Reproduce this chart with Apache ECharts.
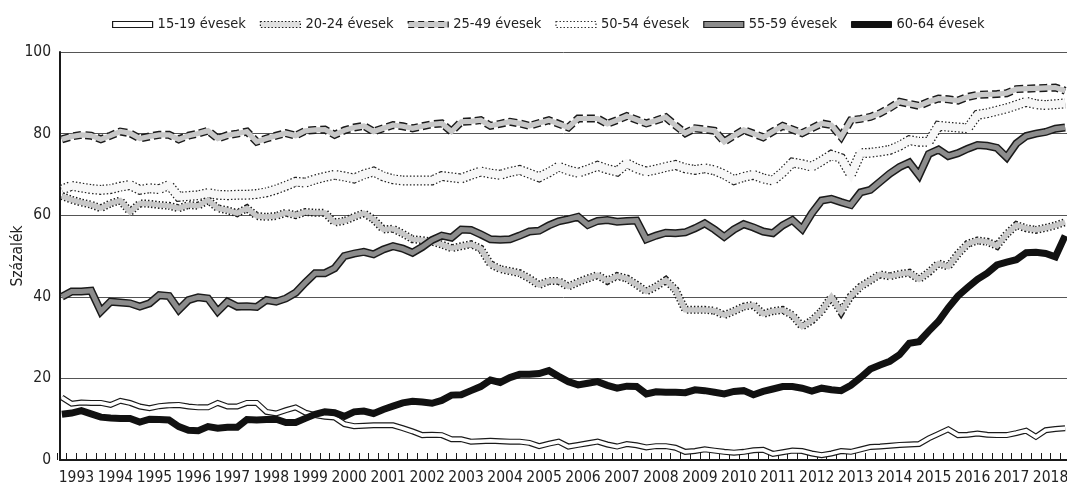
<!DOCTYPE html>
<html><head><meta charset="utf-8">
<script src="https://cdn.jsdelivr.net/npm/echarts@6/dist/echarts.min.js"></script>
<style>html,body{margin:0;padding:0;background:#fff}#c{width:1067px;height:487px}</style>
</head><body><div id="c"></div><script>
const years = [1993,1994,1995,1996,1997,1998,1999,2000,2001,2002,2003,2004,2005,2006,2007,2008,2009,2010,2011,2012,2013,2014,2015,2016,2017,2018];
const quarterNames = ['I','II','III','IV'];
const yTicks = [0,20,40,60,80,100];
const seriesNames = ['15-19 évesek','20-24 évesek','25-49 évesek','50-54 évesek','55-59 évesek','60-64 évesek'];

const s1519 = [15.3,13.8,14.1,14.0, 14.0,13.5,14.5,14.0, 13.1,12.7,13.2,13.4, 13.5,13.1,12.9,12.9, 14.0,13.1,13.1,14.0, 14.0,11.8,11.4,12.2,
  12.9,11.6,11.0,10.6, 10.4,8.8,8.3,8.4, 8.5,8.5,8.5,7.8, 7.0,6.1,6.2,6.1, 5.1,5.1,4.5,4.6, 4.7,4.6,4.5,4.5, 4.2,3.4,4.0,4.5,
  3.3,3.7,4.1,4.5, 3.8,3.3,3.9,3.6, 3.1,3.4,3.4,3.0, 2.0,2.2,2.6,2.3, 2.0,1.8,2.0,2.4, 2.5,1.5,1.9,2.3, 2.2,1.6,1.2,1.6,
  2.2,2.0,2.6,3.2, 3.3,3.5,3.7,3.8, 3.9,5.3,6.4,7.5, 6.1,6.2,6.5,6.2, 6.1,6.1,6.6,7.2, 5.7,7.3,7.6,7.8];
const s2024 = [64.7,63.8,63.1,62.6, 61.7,62.9,63.6,60.8, 62.9,62.8,62.5,62.3, 61.7,62.5,62.3,63.7, 61.7,61.2,60.5,61.7, 59.8,59.6,59.8,60.6,
  60.0,60.8,60.6,60.6, 58.2,58.6,59.6,60.5, 59.0,56.5,56.7,55.5, 54.1,53.9,53.5,52.8, 51.9,52.4,52.9,51.8, 48.0,46.8,46.3,45.8, 44.5,42.9,43.9,43.9,
  42.5,43.6,44.5,45.3, 43.9,45.1,44.5,43.0, 41.3,42.5,44.1,41.7, 36.8,36.8,36.8,36.6, 35.5,36.5,37.6,38.0, 35.8,36.5,36.8,35.5, 32.7,34.2,36.5,40.0,
  36.3,40.2,42.5,44.0, 45.5,45.0,45.6,45.9, 44.3,46.0,48.2,47.4, 50.5,53.0,53.8,53.5, 52.5,55.4,57.6,56.8, 56.4,56.9,57.5,58.3];
const s2549 = [78.6,79.3,79.7,79.5, 78.6,79.5,80.5,80.1, 78.8,79.3,79.7,79.7, 78.6,79.5,80.0,80.7, 78.8,79.6,80.0,80.5, 78.0,78.8,79.5,80.1,
  79.5,80.7,80.9,81.0, 79.7,80.8,81.5,81.9, 80.5,81.3,82.1,81.8, 81.3,81.8,82.3,82.5, 80.5,82.9,83.0,83.3, 81.9,82.4,82.9,82.5, 81.9,82.6,83.3,82.4,
  81.5,83.7,83.7,83.7, 82.4,83.3,84.3,83.4, 82.5,83.2,84.0,82.0, 80.1,81.3,81.0,80.7, 78.0,79.5,80.9,80.0, 79.1,80.5,81.9,81.0, 80.1,81.3,82.5,82.1,
  79.2,83.3,83.6,84.1, 85.0,86.3,87.8,87.3, 86.8,87.8,88.6,88.4, 88.1,89.0,89.5,89.6, 89.7,89.9,90.9,91.0, 91.1,91.2,91.3,90.5];
const s5054 = [66.3,67.2,66.8,66.4, 66.2,66.4,67.0,67.4, 66.2,66.6,66.4,67.4, 64.5,64.7,64.9,65.4, 65.0,64.9,65.0,65.0, 65.2,65.6,66.3,67.2,
  68.2,68.0,68.8,69.4, 69.9,69.5,69.0,70.0, 70.7,69.5,68.8,68.5, 68.5,68.5,68.5,69.6, 69.3,69.0,69.9,70.7, 70.2,69.9,70.6,71.1, 70.2,69.3,70.5,71.9,
  71.0,70.4,71.2,72.1, 71.3,70.7,72.7,71.5, 70.7,71.2,71.8,72.3, 71.5,71.1,71.5,71.0, 70.0,68.6,69.4,69.9, 69.0,68.5,70.5,72.9, 72.5,71.9,73.3,74.8,
  74.0,69.9,75.2,75.3, 75.6,76.0,77.0,78.4, 78.0,78.0,81.9,81.7, 81.5,81.3,84.6,85.0, 85.6,86.2,87.0,87.8, 87.2,87.0,87.2,87.4];
const s5559 = [40.0,41.3,41.3,41.5, 36.4,38.8,38.6,38.4, 37.6,38.4,40.4,40.2, 36.8,39.2,39.9,39.6, 36.4,38.8,37.6,37.7, 37.5,39.2,38.8,39.6,
  41.0,43.5,45.8,45.8, 47.0,50.0,50.6,51.0, 50.4,51.6,52.4,51.8, 50.8,52.2,53.9,55.0, 54.5,56.5,56.4,55.3, 54.1,54.0,54.1,55.0, 56.0,56.2,57.5,58.5,
  59.0,59.6,57.6,58.6, 58.8,58.4,58.6,58.7, 54.1,55.0,55.7,55.6, 55.8,56.8,58.0,56.5, 54.7,56.5,57.8,57.0, 56.0,55.6,57.5,58.8, 56.6,60.5,63.6,64.0,
  63.2,62.5,65.6,66.2, 68.2,70.2,71.8,72.9, 69.8,75.0,76.1,74.5, 75.2,76.3,77.2,77.0, 76.5,74.2,77.6,79.4, 80.0,80.4,81.2,81.5];
const s6064 = [11.2,11.5,12.1,11.3, 10.5,10.3,10.2,10.2, 9.3,10.0,9.9,9.8, 8.2,7.3,7.2,8.2, 7.8,8.0,8.0,9.9, 9.8,9.9,10.0,9.2,
  9.2,10.2,11.2,11.8, 11.6,10.7,11.8,12.0, 11.4,12.4,13.2,14.0, 14.4,14.2,13.9,14.6, 15.9,16.0,17.0,18.0, 19.6,19.0,20.2,21.0, 21.0,21.2,21.9,20.5,
  19.2,18.4,18.8,19.2, 18.3,17.6,18.1,18.0, 16.2,16.7,16.6,16.6, 16.5,17.2,17.0,16.6, 16.2,16.8,17.0,16.0, 16.8,17.4,18.0,18.0, 17.6,16.9,17.6,17.2,
  17.0,18.3,20.2,22.3, 23.3,24.2,25.8,28.6, 29.0,31.6,34.0,37.3, 40.2,42.3,44.3,45.8, 47.8,48.5,49.1,50.8, 50.9,50.6,49.8,55.0];

const quarters = years.flatMap(y => quarterNames.map(q => y + '. ' + q));
const FONT = "'DejaVu Sans Condensed','DejaVu Sans',sans-serif";
const INK = '#1a1a1a';

function line(name, data, color, width, type) {
  return {
    name: name, type: 'line', data: data, xAxisIndex: 1, yAxisIndex: 1,
    showSymbol: false, symbol: 'none', silent: true, animation: false,
    lineStyle: { color: color, width: width, type: type || 'solid', cap: 'butt', join: 'miter' },
    emphasis: { disabled: true }
  };
}

const series = [
  line(seriesNames[3], s5054, '#222', 10, [1.5, 2]),
  line('_f3', s5054, '#f7f7f7', 7.6),
  line(seriesNames[2], s2549, INK, 8, [8, 4]),
  line('_f2', s2549, '#c8c8c8', 5.2),
  line(seriesNames[1], s2024, INK, 8, [1.5, 2]),
  line('_f1', s2024, '#c8c8c8', 5.2),
  line(seriesNames[4], s5559, INK, 8),
  line('_f4', s5559, '#8c8c8c', 5),
  line(seriesNames[0], s1519, INK, 6),
  line('_f0', s1519, '#ffffff', 3.6),
  line(seriesNames[5], s6064, '#111', 7)
];

const legendStyles = [
  { color: '#fff', borderColor: INK, borderWidth: 1.2 },
  { color: '#e0e0e0', borderColor: INK, borderWidth: 1.2, borderType: [1.5, 2] },
  { color: '#c8c8c8', borderColor: INK, borderWidth: 1.2, borderType: [6, 4] },
  { color: '#fff', borderColor: '#333', borderWidth: 1.2, borderType: [1.5, 2] },
  { color: '#8c8c8c', borderColor: INK, borderWidth: 1.2 },
  { color: '#111', borderColor: '#111', borderWidth: 1 }
];

const chart = echarts.init(document.getElementById('c'), null, { renderer: 'canvas' });
chart.setOption({
  animation: false,
  backgroundColor: '#fff',
  textStyle: { fontFamily: FONT },
  legend: {
    left: 107, top: 12, itemWidth: 40, itemHeight: 6, itemGap: 14,
    icon: 'rect', selectedMode: false,
    textStyle: { fontFamily: FONT, fontSize: 14.5, color: '#222' },
    data: seriesNames.map((n, i) => ({ name: n, icon: 'rect', itemStyle: legendStyles[i] }))
  },
  grid: [
    { left: 60, top: 52, width: 1007, height: 408, containLabel: false, outerBoundsMode: 'none' },
    { left: 57, top: 52, width: 1013, height: 408, containLabel: false, outerBoundsMode: 'none' }
  ],
  xAxis: [
    { gridIndex: 0, type: 'value', min: 0, max: 1,
      axisLine: { show: true, lineStyle: { color: INK, width: 2 } },
      axisTick: { show: false }, axisLabel: { show: false }, splitLine: { show: false } },
    { gridIndex: 1, type: 'category', data: quarters, boundaryGap: true,
      axisLine: { show: false },
      axisTick: { show: true, inside: true, length: 7, interval: 0, lineStyle: { color: INK, width: 1 } },
      axisLabel: { show: false }, splitLine: { show: false } },
    { gridIndex: 1, type: 'category', data: years.map(String), boundaryGap: true, position: 'bottom',
      axisLine: { show: false }, axisTick: { show: false },
      axisLabel: { show: true, interval: 0, margin: 10, fontSize: 15.5, color: '#222', fontFamily: FONT },
      splitLine: { show: false } }
  ],
  yAxis: [
    { gridIndex: 0, type: 'value', min: yTicks[0], max: yTicks[yTicks.length - 1], interval: 20,
      name: 'Százalék', nameLocation: 'middle', nameGap: 34, nameRotate: 90, nameMoveOverlap: false,
      nameTextStyle: { fontSize: 15.5, color: '#222', fontFamily: FONT },
      axisLine: { show: true, lineStyle: { color: INK, width: 2 } },
      axisTick: { show: false },
      axisLabel: { fontSize: 15.5, color: '#222', margin: 9, fontFamily: FONT },
      splitLine: { show: true, lineStyle: { color: '#555', width: 1 } } },
    { gridIndex: 1, type: 'value', min: 0, max: 100, show: false }
  ],
  series: series
});
</script></body></html>
